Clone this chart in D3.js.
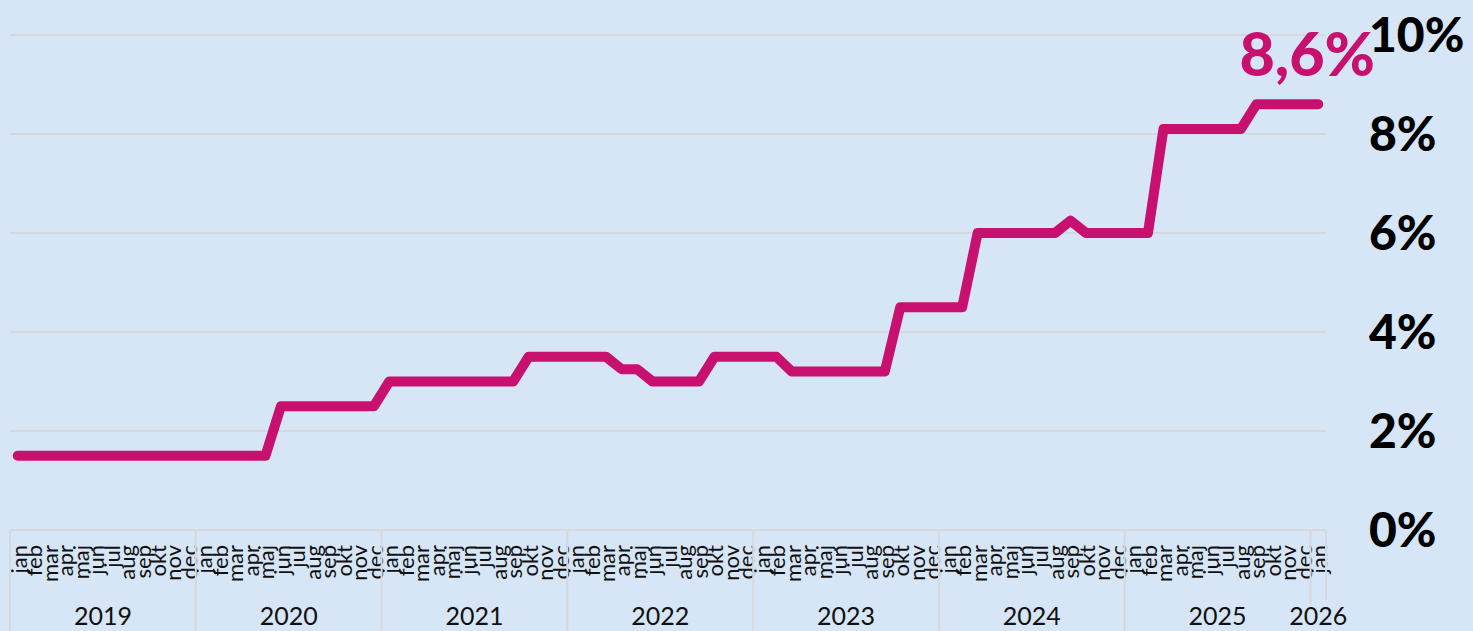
<!DOCTYPE html>
<html>
<head>
<meta charset="utf-8">
<script src="https://cdn.jsdelivr.net/npm/d3@7.9.0/dist/d3.min.js"></script>
<style>
  html, body { margin: 0; padding: 0; background: #d6e6f6; }
  svg { display: block; font-family: Futura, 'Century Gothic', Lato, sans-serif; }
</style>
</head>
<body>
<svg id="chart" width="1473" height="631"></svg>
<script>
const months = ['jan', 'feb', 'mar', 'apr', 'maj', 'jun', 'jul', 'aug', 'sep', 'okt', 'nov', 'dec'];
const years = ['2019', '2020', '2021', '2022', '2023', '2024', '2025', '2026'];
const monthsInYear = [12, 12, 12, 12, 12, 12, 12, 1];

// rate per month, jan 2019 .. jan 2026
const rates = [
  1.5, 1.5, 1.5, 1.5, 1.5, 1.5, 1.5, 1.5, 1.5, 1.5, 1.5, 1.5,
  1.5, 1.5, 1.5, 1.5, 1.5, 2.5, 2.5, 2.5, 2.5, 2.5, 2.5, 2.5,
  3.0, 3.0, 3.0, 3.0, 3.0, 3.0, 3.0, 3.0, 3.0, 3.5, 3.5, 3.5,
  3.5, 3.5, 3.5, 3.25, 3.25, 3.0, 3.0, 3.0, 3.0, 3.5, 3.5, 3.5,
  3.5, 3.5, 3.2, 3.2, 3.2, 3.2, 3.2, 3.2, 3.2, 4.5, 4.5, 4.5,
  4.5, 4.5, 6.0, 6.0, 6.0, 6.0, 6.0, 6.0, 6.25, 6.0, 6.0, 6.0,
  6.0, 6.0, 8.1, 8.1, 8.1, 8.1, 8.1, 8.1, 8.6, 8.6, 8.6, 8.6,
  8.6
];
const yTicks = [0, 2, 4, 6, 8, 10];
const lastLabel = '8,6%';

const categories = [];
years.forEach((yr, k) => {
  for (let m = 0; m < monthsInYear[k]; m++) categories.push({ year: yr, month: months[m] });
});
const data = categories.map((c, i) => ({ ...c, i, value: rates[i] }));

const svg = d3.select('#chart');
const plot = { left: 10, right: 1326, top: 35, bottom: 530 };

const x = d3.scaleBand().domain(data.map(d => d.i)).range([plot.left, plot.right]).padding(0);
const cx = i => x(i) + x.bandwidth() / 2;
const y = d3.scaleLinear().domain([0, 10]).range([plot.bottom, plot.top]);

const gridColor = '#d5d9de';

// gridlines
svg.append('g')
  .selectAll('line')
  .data(yTicks)
  .join('line')
  .attr('x1', plot.left)
  .attr('x2', plot.right)
  .attr('y1', d => y(d))
  .attr('y2', d => y(d))
  .attr('stroke', gridColor)
  .attr('stroke-width', 2);

// y labels on the right
svg.append('g')
  .selectAll('text')
  .data(yTicks)
  .join('text')
  .attr('x', 1369)
  .attr('y', d => y(d))
  .attr('dy', '0.36em')
  .attr('font-size', 48)
  .attr('font-weight', 900)
  .attr('fill', '#000')
  .text(d => d + '%');

// month labels
svg.append('g')
  .selectAll('text')
  .data(data)
  .join('text')
  .attr('transform', d => `translate(${cx(d.i) + 1},545) rotate(-90)`)
  .attr('dy', '0.36em')
  .attr('text-anchor', 'end')
  .attr('font-size', 22)
  .attr('fill', '#111')
  .text(d => d.month);

// year groups
const groups = d3.groups(data, d => d.year);
const sep = svg.append('g');
groups.forEach(([yr, rows], k) => {
  const x0 = x(rows[0].i);
  const x1 = x(rows[rows.length - 1].i) + x.bandwidth();
  sep.append('line')
    .attr('x1', x0).attr('x2', x0)
    .attr('y1', plot.bottom).attr('y2', k === groups.length - 1 ? 604 : 631)
    .attr('stroke', gridColor).attr('stroke-width', 2);
  sep.append('text')
    .attr('x', (x0 + x1) / 2)
    .attr('y', 625)
    .attr('text-anchor', 'middle')
    .attr('font-size', 25)
    .attr('fill', '#111')
    .text(yr);
});
sep.append('line')
  .attr('x1', plot.right).attr('x2', plot.right)
  .attr('y1', plot.bottom).attr('y2', 600)
  .attr('stroke', gridColor).attr('stroke-width', 2);

// line
const line = d3.line()
  .x(d => cx(d.i))
  .y(d => y(d.value));

svg.append('path')
  .datum(data)
  .attr('d', line)
  .attr('fill', 'none')
  .attr('stroke', '#c8106e')
  .attr('stroke-width', 10)
  .attr('stroke-linejoin', 'round')
  .attr('stroke-linecap', 'round');

// last value label
const last = data[data.length - 1];
svg.append('text')
  .attr('x', cx(last.i) - 11)
  .attr('y', 76)
  .attr('text-anchor', 'middle')
  .attr('font-size', 61)
  .attr('font-weight', 900)
  .attr('fill', '#c8106e')
  .text(lastLabel);
</script>
</body>
</html>
